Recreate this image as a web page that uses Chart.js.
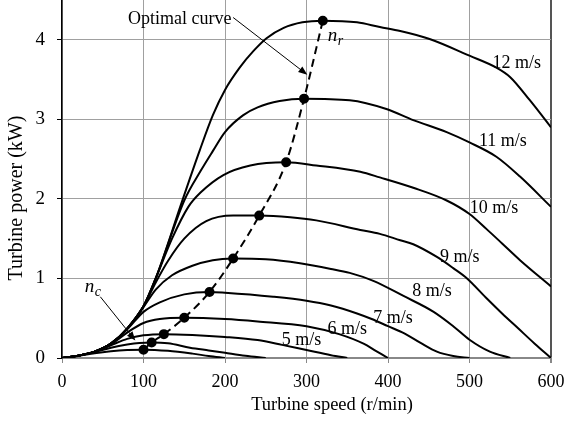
<!DOCTYPE html>
<html>
<head>
<meta charset="utf-8">
<script src="https://cdn.jsdelivr.net/npm/chart.js@4"></script>
<style>
  body { margin: 0; background: #fff; }
  #wrap { width: 564px; height: 424px; position: relative; }
</style>
</head>
<body>
<div id="wrap"><canvas id="powerChart"></canvas></div>
<script>
// turbine speed (r/min) and power (kW), one pair per wind speed
const n3 = [0, 20, 40, 60, 80, 100, 130, 160, 180, 200];
const p3 = [0, 0.025, 0.06, 0.085, 0.1, 0.104, 0.09, 0.055, 0.025, 0];
const n4 = [0, 20, 40, 60, 80, 95, 110, 130, 157, 180, 200, 225, 250];
const p4 = [0, 0.03, 0.075, 0.13, 0.17, 0.19, 0.195, 0.185, 0.13, 0.095, 0.065, 0.028, 0];
const n5 = [0, 20, 40, 60, 80, 100, 125, 160, 200, 240, 270, 300, 330, 350];
const p5 = [0, 0.03, 0.08, 0.16, 0.24, 0.285, 0.30, 0.29, 0.265, 0.225, 0.165, 0.1, 0.035, 0];
const n6 = [0, 20, 40, 60, 80, 100, 120, 150, 200, 240, 300, 340, 370, 385, 400];
const p6 = [0, 0.03, 0.08, 0.17, 0.32, 0.44, 0.49, 0.505, 0.49, 0.46, 0.4, 0.3, 0.18, 0.09, 0];
const n7 = [0, 20, 40, 60, 80, 100, 120, 150, 181, 200, 259, 300, 330, 362, 380, 400, 420, 440, 460, 480, 500];
const p7 = [0, 0.03, 0.08, 0.18, 0.36, 0.58, 0.7, 0.8, 0.83, 0.82, 0.77, 0.72, 0.66, 0.56, 0.49, 0.4, 0.31, 0.19, 0.08, 0.025, 0];
const n8 = [0, 20, 40, 60, 80, 100, 115, 135, 160, 185, 210, 250, 292, 330, 353, 382, 419, 456, 480, 500, 525, 550];
const p8 = [0, 0.03, 0.08, 0.18, 0.37, 0.64, 0.86, 1.04, 1.16, 1.23, 1.25, 1.24, 1.19, 1.12, 1.07, 0.97, 0.78, 0.58, 0.4, 0.23, 0.08, 0];
const n9 = [0, 20, 40, 60, 80, 100, 115, 130, 150, 177, 210, 242, 280, 312, 366, 390, 415, 431, 460, 480, 497, 520, 540, 560, 580, 600];
const p9 = [0, 0.03, 0.08, 0.18, 0.37, 0.65, 0.95, 1.22, 1.5, 1.72, 1.79, 1.79, 1.77, 1.73, 1.61, 1.56, 1.48, 1.43, 1.27, 1.13, 1.0, 0.76, 0.56, 0.37, 0.18, 0];
const n10 = [0, 20, 40, 60, 80, 100, 115, 135, 155, 170, 198, 231, 275, 312, 366, 390, 431, 472, 500, 521, 540, 562, 600];
const p10 = [0, 0.03, 0.08, 0.18, 0.37, 0.65, 1.0, 1.5, 1.9, 2.08, 2.3, 2.42, 2.46, 2.42, 2.34, 2.27, 2.14, 1.98, 1.81, 1.62, 1.44, 1.23, 0.9];
const n11 = [0, 20, 40, 60, 80, 100, 115, 150, 170, 185, 200, 222, 240, 267, 297, 353, 398, 431, 472, 500, 533, 562, 600];
const p11 = [0, 0.03, 0.08, 0.18, 0.37, 0.65, 1.0, 1.98, 2.35, 2.6, 2.84, 3.05, 3.15, 3.23, 3.26, 3.24, 3.13, 2.99, 2.84, 2.71, 2.53, 2.28, 1.9];
const n12 = [0, 20, 40, 60, 80, 100, 115, 147, 169, 185, 200, 218, 235, 251, 272, 295, 320, 362, 390, 415, 451, 500, 533, 550, 574, 600];
const p12 = [0, 0.03, 0.08, 0.18, 0.37, 0.65, 1.0, 1.96, 2.61, 3.05, 3.37, 3.65, 3.86, 4.02, 4.15, 4.22, 4.24, 4.22, 4.16, 4.11, 4.01, 3.8, 3.65, 3.53, 3.24, 2.9];

// optimal (max power) points
const optN = [100, 110, 125, 150, 181, 210, 242, 275, 297, 320];
const optP = [0.104, 0.195, 0.30, 0.505, 0.83, 1.25, 1.79, 2.46, 3.26, 4.24];

const windLabels = ['5 m/s', '6 m/s', '7 m/s', '8 m/s', '9 m/s', '10 m/s', '11 m/s', '12 m/s'];
const labelN = [294, 350, 406, 454, 488, 530, 541, 558];
const labelP = [0.217, 0.355, 0.505, 0.84, 1.27, 1.88, 2.73, 3.71];

const xTicks = [0, 100, 200, 300, 400, 500, 600];
const yTicks = [0, 1, 2, 3, 4];

const curves = [[n3, p3], [n4, p4], [n5, p5], [n6, p6], [n7, p7], [n8, p8], [n9, p9], [n10, p10], [n11, p11], [n12, p12]];

const toPoints = (xs, ys) => xs.map((x, i) => ({ x: x, y: ys[i] }));

const datasets = curves.map(c => ({
    data: toPoints(c[0], c[1]),
    borderColor: '#000',
    borderWidth: 2,
    pointRadius: 0,
    cubicInterpolationMode: 'monotone',
    fill: false
}));

datasets.push({
    data: toPoints(optN, optP),
    borderColor: '#000',
    borderWidth: 2,
    borderDash: [8, 5],
    pointRadius: 4,
    pointBackgroundColor: '#000',
    pointBorderColor: '#000',
    cubicInterpolationMode: 'monotone',
    fill: false
});

const SERIF = '"Liberation Serif", "Times New Roman", serif';

function arrow(ctx, x1, y1, x2, y2) {
    const a = Math.atan2(y2 - y1, x2 - x1);
    const len = 9, w = 3.5;
    ctx.beginPath();
    ctx.moveTo(x1, y1);
    ctx.lineTo(x2 - Math.cos(a) * len * 0.8, y2 - Math.sin(a) * len * 0.8);
    ctx.lineWidth = 1;
    ctx.strokeStyle = '#000';
    ctx.stroke();
    ctx.beginPath();
    ctx.moveTo(x2, y2);
    ctx.lineTo(x2 - Math.cos(a) * len - Math.sin(a) * w, y2 - Math.sin(a) * len + Math.cos(a) * w);
    ctx.lineTo(x2 - Math.cos(a) * len + Math.sin(a) * w, y2 - Math.sin(a) * len - Math.cos(a) * w);
    ctx.closePath();
    ctx.fillStyle = '#000';
    ctx.fill();
}

function subscripted(ctx, base, sub, x, y) {
    ctx.font = 'italic 19px ' + SERIF;
    ctx.textAlign = 'left';
    ctx.textBaseline = 'alphabetic';
    ctx.fillText(base, x, y);
    const w = ctx.measureText(base).width;
    ctx.font = 'italic 14px ' + SERIF;
    ctx.fillText(sub, x + w + 0.5, y + 4);
}

const annotations = {
    id: 'annotations',
    afterDatasetsDraw(chart) {
        const ctx = chart.ctx;
        const xs = chart.scales.x, ys = chart.scales.y;
        const px = v => xs.getPixelForValue(v);
        const py = v => ys.getPixelForValue(v);
        ctx.save();
        ctx.fillStyle = '#000';

        ctx.font = '18px ' + SERIF;
        ctx.textAlign = 'center';
        ctx.textBaseline = 'middle';
        windLabels.forEach((t, i) => ctx.fillText(t, px(labelN[i]), py(labelP[i])));

        ctx.textAlign = 'left';
        ctx.textBaseline = 'alphabetic';
        ctx.fillText('Optimal curve', px(81), py(4.2));
        arrow(ctx, px(210), py(4.28), px(301), py(3.56));

        subscripted(ctx, 'n', 'r', px(326), py(3.99));
        subscripted(ctx, 'n', 'c', px(28), py(0.83));
        arrow(ctx, px(47), py(0.77), px(90), py(0.22));

        // axis titles
        ctx.font = '18.5px ' + SERIF;
        ctx.textAlign = 'center';
        ctx.textBaseline = 'middle';
        ctx.fillText('Turbine speed (r/min)', 332, 405);
        ctx.save();
        ctx.font = '20px ' + SERIF;
        ctx.translate(17, 198);
        ctx.rotate(-Math.PI / 2);
        ctx.fillText('Turbine power (kW)', 0, 0);
        ctx.restore();

        ctx.restore();
    }
};

function noPad(s) {
    s.paddingTop = 0; s.paddingBottom = 0; s.paddingLeft = 0; s.paddingRight = 0;
}

Chart.defaults.font.family = SERIF;
Chart.defaults.color = '#000';

new Chart(document.getElementById('powerChart').getContext('2d'), {
    type: 'line',
    data: { datasets: datasets },
    options: {
        responsive: true, maintainAspectRatio: false,
        animation: false,
        events: [],
        layout: { autoPadding: false, padding: { top: 0, right: 13, left: 0, bottom: 0 } },
        plugins: { legend: { display: false }, tooltip: { enabled: false } },
        scales: {
            x: {
                type: 'linear', min: 0, max: 600,
                afterBuildTicks: s => { s.ticks = xTicks.map(v => ({ value: v })); },
                afterFit: s => { s.height = 66; noPad(s); },
                ticks: { font: { size: 18 }, padding: 8, color: '#000' },
                grid: {
                    color: ctx => ctx.tick && ctx.tick.value === 600 ? '#555' : '#a0a0a0',
                    lineWidth: ctx => ctx.tick && ctx.tick.value === 600 ? 2 : 1,
                    tickLength: 5, tickColor: '#888'
                },
                border: { color: '#888', width: 2 }
            },
            y: {
                min: 0, max: 4.5,
                afterBuildTicks: s => { s.ticks = yTicks.map(v => ({ value: v })); },
                afterFit: s => { s.width = 62; noPad(s); },
                ticks: { font: { size: 19 }, padding: 12, color: '#000' },
                grid: { color: '#a0a0a0', lineWidth: 1, tickLength: 5, tickColor: '#000' },
                border: { color: '#000', width: 1.5 }
            }
        }
    },
    plugins: [annotations]
});
</script>
</body>
</html>
